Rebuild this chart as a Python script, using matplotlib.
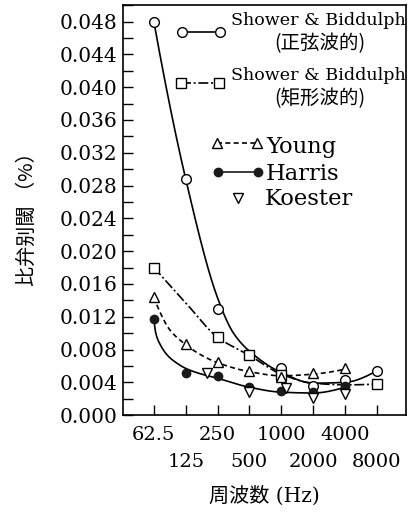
import numpy as np
import matplotlib
matplotlib.use("Agg")
import matplotlib.pyplot as plt
from matplotlib.ticker import MultipleLocator, FormatStrFormatter, FixedLocator, FixedFormatter

# ---- data -------------------------------------------------------------
upper_ticks = [62.5, 250, 1000, 4000]
upper_labels = ["62.5", "250", "1000", "4000"]
lower_ticks = [125, 500, 2000, 8000]
lower_labels = ["125", "500", "2000", "8000"]

# Shower & Biddulph, sinusoidal modulation (open circles)
sine_f = [62.5, 125, 250, 1000, 2000, 4000, 8000]
sine_v = [0.0480, 0.0288, 0.0129, 0.0057, 0.0035, 0.0043, 0.0054]
# Shower & Biddulph, rectangular modulation (open squares)
rect_f = [62.5, 250, 500, 1000, 8000]
rect_v = [0.0180, 0.0095, 0.0073, 0.0049, 0.0038]
# Young (open triangles)
young_f = [62.5, 125, 250, 500, 1000, 2000, 4000]
young_v = [0.0144, 0.0087, 0.0065, 0.0054, 0.0047, 0.0052, 0.0058]
# Harris (filled circles)
harris_f = [62.5, 125, 250, 500, 1000, 2000, 4000]
harris_v = [0.0117, 0.0052, 0.0048, 0.0034, 0.0029, 0.0028, 0.0036]
# Koester (open down-triangles)
koester_f = [200, 500, 1100, 2000, 4000]
koester_v = [0.0051, 0.0028, 0.0033, 0.0021, 0.0026]

# Hand-fitted trend curves (octaves above 62.5 Hz, value)
sine_curve_oct = [0, 1, 2, 2.5, 3, 4, 5, 6, 7]
sine_curve_v = [0.0480, 0.0288, 0.0143, 0.0100, 0.0078, 0.0052, 0.0039, 0.0040, 0.0054]
rect_curve_oct = [0, 1, 2, 3, 4, 5, 6, 7]
rect_curve_v = [0.0180, 0.0137, 0.0095, 0.0073, 0.0050, 0.0039, 0.0037, 0.0038]
young_curve_oct = [0, 0.2, 0.5, 1, 1.5, 2, 3, 4, 5, 6]
young_curve_v = [0.0144, 0.0125, 0.0104, 0.0086, 0.0073, 0.0064, 0.0053, 0.0048, 0.0050, 0.0056]
harris_curve_oct = [0, 0.06, 0.2, 0.45, 0.7, 1, 1.5, 2, 3, 4, 5, 6]
harris_curve_v = [0.0117, 0.0100, 0.0086, 0.0072, 0.0064, 0.0057, 0.0050, 0.0045, 0.0034, 0.0028, 0.0027, 0.0034]


def pchip(xk, yk, xs):
    """Monotone piecewise cubic Hermite interpolation (Fritsch-Carlson)."""
    xk = np.asarray(xk, float)
    yk = np.asarray(yk, float)
    h = np.diff(xk)
    d = np.diff(yk) / h
    n = len(xk)
    m = np.zeros(n)
    for k in range(1, n - 1):
        if d[k - 1] * d[k] <= 0:
            m[k] = 0.0
        else:
            w1 = 2 * h[k] + h[k - 1]
            w2 = h[k] + 2 * h[k - 1]
            m[k] = (w1 + w2) / (w1 / d[k - 1] + w2 / d[k])

    def end_slope(h0, h1, d0, d1):
        s = ((2 * h0 + h1) * d0 - h0 * d1) / (h0 + h1)
        if np.sign(s) != np.sign(d0):
            s = 0.0
        elif np.sign(d0) != np.sign(d1) and abs(s) > abs(3 * d0):
            s = 3 * d0
        return s

    m[0] = end_slope(h[0], h[1], d[0], d[1])
    m[-1] = end_slope(h[-1], h[-2], d[-1], d[-2])
    xs = np.asarray(xs, float)
    idx = np.clip(np.searchsorted(xk, xs) - 1, 0, n - 2)
    t = (xs - xk[idx]) / h[idx]
    h00 = 2 * t**3 - 3 * t**2 + 1
    h10 = t**3 - 2 * t**2 + t
    h01 = -2 * t**3 + 3 * t**2
    h11 = t**3 - t**2
    return (h00 * yk[idx] + h10 * h[idx] * m[idx]
            + h01 * yk[idx + 1] + h11 * h[idx] * m[idx + 1])


def curve(octs, vals):
    s = np.linspace(octs[0], octs[-1], 300)
    return 62.5 * 2.0 ** s, pchip(octs, vals, s)


# ---- figure -----------------------------------------------------------
serif = ["DejaVu Serif", "Noto Sans CJK JP"]
cjk = ["Noto Sans CJK JP", "DejaVu Serif"]
plt.rcParams["font.family"] = serif
plt.rcParams["axes.linewidth"] = 1.2

fig = plt.figure(figsize=(4.14, 5.17), dpi=100)
ax = fig.add_axes([0.297, 0.197, 0.684, 0.793])

lw = 1.2
ms = 6.5
dashdot = (0, (6, 1.6, 1.2, 1.6))
open_kw = dict(markerfacecolor="white", markeredgecolor="black", markeredgewidth=1.0)

x, y = curve(sine_curve_oct, sine_curve_v)
ax.plot(x, y, color="black", lw=lw, ls="-", zorder=2)
x, y = curve(rect_curve_oct, rect_curve_v)
ax.plot(x, y, color="black", lw=lw, ls=dashdot, zorder=2)
x, y = curve(young_curve_oct, young_curve_v)
ax.plot(x, y, color="black", lw=lw, ls=(0, (3, 2)), zorder=2)
x, y = curve(harris_curve_oct, harris_curve_v)
ax.plot(x, y, color="black", lw=lw, ls="-", zorder=2)

ax.plot(sine_f, sine_v, "o", ms=ms + 0.5, ls="none", zorder=3, **open_kw)
ax.plot(rect_f, rect_v, "s", ms=ms, ls="none", zorder=3, **open_kw)
ax.plot(young_f, young_v, "^", ms=ms + 0.5, ls="none", zorder=4, **open_kw)
ax.plot(harris_f, harris_v, "o", ms=ms - 0.5, ls="none", color="#1a1a1a", zorder=4)
ax.plot(koester_f, koester_v, "v", ms=ms + 0.5, ls="none", zorder=4, **open_kw)

# axes scales and ticks: octave labels staggered on two rows
ax.set_xscale("log", base=2)
ax.set_xlim(62.5 * 2 ** -0.97, 62.5 * 2 ** 7.92)
ax.set_ylim(0, 0.050)
ax.xaxis.set_major_locator(FixedLocator(upper_ticks))
ax.xaxis.set_major_formatter(FixedFormatter(upper_labels))
ax.xaxis.set_minor_locator(FixedLocator(lower_ticks))
ax.xaxis.set_minor_formatter(FixedFormatter(lower_labels))
ax.yaxis.set_major_locator(MultipleLocator(0.004))
ax.yaxis.set_minor_locator(MultipleLocator(0.002))
ax.yaxis.set_major_formatter(FormatStrFormatter("%.3f"))
ax.tick_params(axis="both", which="both", direction="in", width=1.0, length=7)
ax.tick_params(axis="y", which="major", labelsize=14.5, pad=4)
ax.tick_params(axis="x", which="major", labelsize=14, pad=8)
ax.tick_params(axis="x", which="minor", labelsize=14, pad=27)

ax.set_xlabel("周波数 (Hz)", fontsize=14.5, family=serif)
ax.xaxis.set_label_coords(0.5, -0.172)
ax.set_ylabel("比弁别閾 （%）", fontsize=14.5, family=cjk)
ax.yaxis.set_label_coords(-0.30, 0.49)

# ---- key --------------------------------------------------------------
T = ax.transAxes
ax.plot([0.207, 0.343], [0.935, 0.935], "-o", color="black", lw=lw, ms=ms + 0.5,
        transform=T, clip_on=False, **open_kw)
ax.text(0.383, 0.963, "Shower & Biddulph", transform=T, fontsize=12.6, va="center", ha="left")
ax.text(0.696, 0.907, "(正弦波的)", transform=T, fontsize=14, va="center", ha="center", family=cjk)

ax.plot([0.205, 0.339], [0.810, 0.810], marker="s", color="black", lw=lw, ms=ms,
        ls=dashdot, transform=T, clip_on=False, **open_kw)
ax.text(0.383, 0.829, "Shower & Biddulph", transform=T, fontsize=12.6, va="center", ha="left")
ax.text(0.696, 0.773, "(矩形波的)", transform=T, fontsize=14, va="center", ha="center", family=cjk)

ax.plot([0.332, 0.473], [0.663, 0.663], marker="^", color="black", lw=lw, ms=ms,
        ls=(0, (3, 2)), transform=T, clip_on=False, **open_kw)
ax.text(0.505, 0.655, "Young", transform=T, fontsize=16.3, va="center", ha="left")

ax.plot([0.336, 0.477], [0.593, 0.593], "-o", color="#1a1a1a", lw=lw, ms=ms - 0.5,
        transform=T, clip_on=False)
ax.text(0.505, 0.588, "Harris", transform=T, fontsize=16.3, va="center", ha="left")

ax.plot([0.406], [0.529], "v", ms=ms, transform=T, clip_on=False, **open_kw)
ax.text(0.500, 0.527, "Koester", transform=T, fontsize=16.3, va="center", ha="left")

fig.savefig("out.png", dpi=100, facecolor="white")
